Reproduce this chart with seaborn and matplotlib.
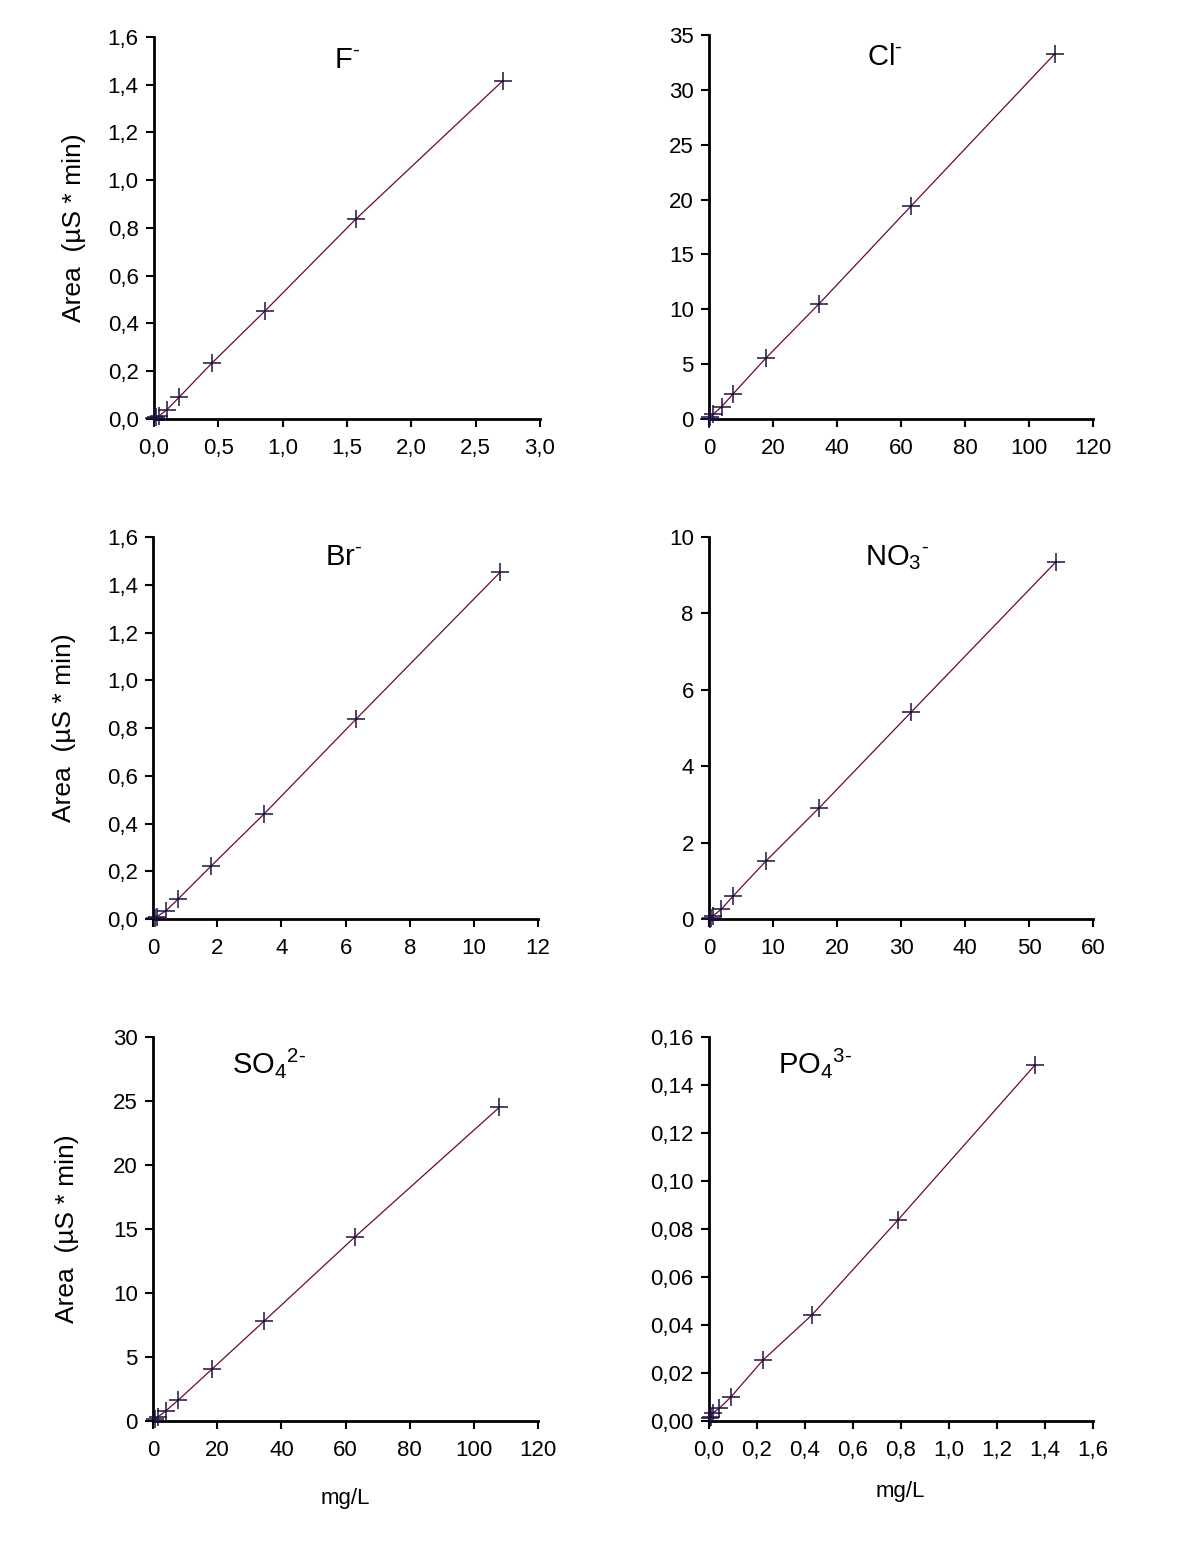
import matplotlib
matplotlib.use("Agg")
import matplotlib.pyplot as plt
import seaborn as sns
import pandas as pd
from matplotlib.ticker import FuncFormatter, MultipleLocator

# ==========================================
# datos (mg/L vs área)
# ==========================================
f_x = [0.003, 0.016, 0.041, 0.099, 0.197, 0.45, 0.862, 1.57, 2.71]
f_y = [0.002, 0.007, 0.013, 0.038, 0.092, 0.234, 0.452, 0.838, 1.416]

cl_x = [0.1, 0.3, 1.35, 3.96, 7.5, 17.8, 34.4, 63.1, 108.1]
cl_y = [0.03, 0.15, 0.45, 1.12, 2.28, 5.56, 10.5, 19.4, 33.3]

br_x = [0.05, 0.115, 0.405, 0.79, 1.81, 3.46, 6.33, 10.82]
br_y = [0.005, 0.01, 0.035, 0.085, 0.222, 0.44, 0.838, 1.453]

no3_x = [0.1, 0.26, 0.57, 1.88, 3.75, 8.9, 17.2, 31.6, 54.2]
no3_y = [0.01, 0.03, 0.08, 0.25, 0.6, 1.52, 2.91, 5.42, 9.35]

so4_x = [0.6, 1.65, 4.05, 7.9, 18.4, 34.6, 63.0, 107.9]
so4_y = [0.13, 0.34, 0.8, 1.64, 4.06, 7.8, 14.4, 24.5]

po4_x = [0.003, 0.007, 0.018, 0.043, 0.092, 0.225, 0.429, 0.7875, 1.358]
po4_y = [0.0012, 0.0018, 0.0035, 0.0053, 0.0101, 0.0254, 0.0442, 0.0838, 0.1483]

# guion corto (U+2010) para que no salga el signo menos largo
titulos = ['F$^{\u2010}$', 'Cl$^{\u2010}$', 'Br$^{\u2010}$', 'NO$_3$$^{\u2010}$',
           'SO$_4$$^{2\u2010}$', 'PO$_4$$^{3\u2010}$']

sns.set_style("ticks")
plt.rcParams['font.family'] = ['Liberation Sans', 'DejaVu Sans']
plt.rcParams['mathtext.fontset'] = 'custom'
plt.rcParams['mathtext.rm'] = 'Liberation Sans'
plt.rcParams['mathtext.it'] = 'Liberation Sans'
plt.rcParams['mathtext.default'] = 'regular'
plt.rcParams['text.color'] = 'black'
plt.rcParams['axes.labelcolor'] = 'black'

fig = plt.figure(figsize=(11.79, 15.54), dpi=100)

# posiciones de cada panel [izq, abajo, ancho, alto] y límites
paneles = [
    dict(x=f_x, y=f_y, pos=[0.1306, 0.7304, 0.3274, 0.2458], xlim=3.0, xs=0.5, ylim=1.6, ys=0.2,
         xf=1, yf=1, tpos=(0.50, 0.94), ylab=-0.176),
    dict(x=cl_x, y=cl_y, pos=[0.6014, 0.7304, 0.3257, 0.2471], xlim=120, xs=20, ylim=35, ys=5,
         xf=0, yf=0, tpos=(0.458, 0.943), ylab=None),
    dict(x=br_x, y=br_y, pos=[0.1298, 0.4086, 0.3266, 0.2458], xlim=12, xs=2, ylim=1.6, ys=0.2,
         xf=0, yf=1, tpos=(0.494, 0.948), ylab=-0.20),
    dict(x=no3_x, y=no3_y, pos=[0.6014, 0.4086, 0.3257, 0.2458], xlim=60, xs=10, ylim=10, ys=2,
         xf=0, yf=0, tpos=(0.49, 0.945), ylab=None),
    dict(x=so4_x, y=so4_y, pos=[0.1298, 0.0856, 0.3266, 0.2471], xlim=120, xs=20, ylim=30, ys=5,
         xf=0, yf=0, tpos=(0.30, 0.932), ylab=-0.192),
    dict(x=po4_x, y=po4_y, pos=[0.6014, 0.0856, 0.3257, 0.2471], xlim=1.6, xs=0.2, ylim=0.16, ys=0.02,
         xf=1, yf=2, tpos=(0.276, 0.932), ylab=None),
]


def coma(dec):
    return FuncFormatter(lambda v, p: f"{v:.{dec}f}".replace('.', ','))


for i, p in enumerate(paneles):
    ax = fig.add_axes(p['pos'])
    df = pd.DataFrame({'conc': p['x'], 'area': p['y']})
    sns.lineplot(data=df, x='conc', y='area', ax=ax, color='#6a0a30', lw=0.9, sort=True)
    sns.scatterplot(data=df, x='conc', y='area', ax=ax, marker='+', s=150, color='#1a1240',
                    linewidth=1.1, clip_on=False, zorder=3)
    ax.set_xlim(0, p['xlim'])
    ax.set_ylim(0, p['ylim'])
    ax.xaxis.set_major_locator(MultipleLocator(p['xs']))
    ax.yaxis.set_major_locator(MultipleLocator(p['ys']))
    ax.xaxis.set_major_formatter(coma(p['xf']))
    ax.yaxis.set_major_formatter(coma(p['yf']))
    sns.despine(ax=ax)
    for s in ['left', 'bottom']:
        ax.spines[s].set_linewidth(2.0)
        ax.spines[s].set_color('black')
    ax.tick_params(direction='out', length=6, width=1.5, labelsize=16, colors='black')
    ax.tick_params(axis='x', pad=8)
    ax.tick_params(axis='y', pad=5)
    ax.set_xlabel('')
    ax.set_ylabel('')
    ax.text(p['tpos'][0], p['tpos'][1], titulos[i], transform=ax.transAxes,
            ha='center', va='center', fontsize=21)
    if p['ylab'] is not None:
        ax.set_ylabel('Area  (µS * min)', fontsize=19)
        ax.yaxis.set_label_coords(p['ylab'], 0.5)
    if i >= 4:
        ax.set_xlabel('mg/L', fontsize=16)
        ax.xaxis.set_label_coords(0.499 if i == 4 else 0.497, -0.175 if i == 4 else -0.156)

fig.savefig('out.png', dpi=100)
